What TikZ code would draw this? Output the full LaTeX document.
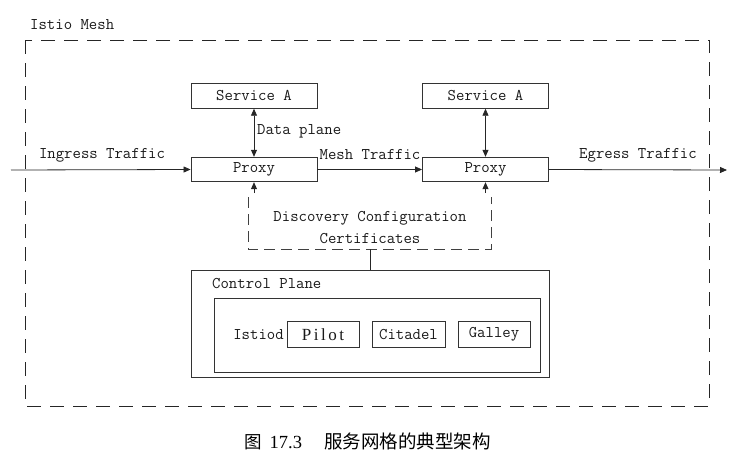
\documentclass[tikz,border=0pt]{standalone}
\usepackage{fontspec}
\newfontfamily\serifnum{Liberation Serif}
\newfontfamily\pilotfont[LetterSpace=15]{Liberation Serif}
\newfontfamily\cjk{Noto Sans CJK SC}
\usetikzlibrary{arrows.meta,positioning}
\tikzset{
  lbl/.style={inner sep=0pt, font=\ttfamily\fontsize{16.3}{18}\selectfont, text=black!90},
  boxnode/.style={draw=black!80, line width=0.9pt, inner sep=0pt, font=\ttfamily\fontsize{16.3}{18}\selectfont, text=black!90},
  small/.style={boxnode, minimum width=126pt, minimum height=24.5pt},
  comp/.style={boxnode, minimum height=26pt},
  conn/.style={draw=black!85, line width=0.8pt},
  tip/.style={-{Triangle[length=7pt,width=6pt]}},
  dtip/.style={{Triangle[length=7pt,width=6pt]}-{Triangle[length=7pt,width=6pt]}},
  bigdash/.style={draw=black!85, line width=0.9pt, dash pattern=on 14pt off 9pt},
  smalldash/.style={draw=black!75, line width=0.9pt, dash pattern=on 11pt off 6pt},
}
\begin{document}
\begin{tikzpicture}[x=1pt,y=-1pt]
\useasboundingbox (0,0) rectangle (737,463);
% outer mesh
\draw[bigdash] (25,40) rectangle (709,406);
\node[lbl, anchor=west] (mesh) at (30,25) {Istio Mesh};

% services and proxies
\node[small] (svcL) at (254,96) {Service A};
\node[small] (pxL) at (254,169.5) {Proxy};
\node[small] (svcR) at (485.5,96) {Service A};
\node[small] (pxR) at (485.5,169.5) {Proxy};

% traffic
\coordinate (inS) at (11,170);
\coordinate (egE) at (727,170);
\draw[conn,tip] (inS) -- (pxL.west);
\draw[conn,tip] (pxL.east) -- (pxR.west);
\draw[conn,tip] (pxR.east) -- (egE);
\node[lbl] (ingl) at (102,155) {Ingress Traffic};
\node[lbl] (meshl) at (370,155) {Mesh Traffic};
\node[lbl] (egl) at (638,155) {Egress Traffic};

% data plane
\draw[conn,dtip] (svcL.south) -- (pxL.north);
\draw[conn,dtip] (svcR.south) -- (pxR.north);
\node[lbl, anchor=west] (dpl) at (257,131) {Data plane};

% discovery
\coordinate (dl) at (248,197);
\coordinate (dbl) at (248,249);
\coordinate (dbr) at (491,249);
\coordinate (dr) at (491,197);
\coordinate (dm) at (370,249);
\draw[smalldash] (dl) -- (dbl) -- (dbr) -- (dr);
\coordinate (aL) at (254,193);
\coordinate (aR) at (485.5,193);
\draw[conn,tip] (aL) -- (pxL.south);
\draw[conn,tip] (aR) -- (pxR.south);
\node[lbl] (disc1) at (370,218) {Discovery Configuration};
\node[lbl] (disc2) at (370,238.5) {Certificates};

% control plane
\node[boxnode, minimum width=358pt, minimum height=107pt] (cp) at (370,323.5) {};
\draw[conn] (dm) -- (cp.north);
\node[lbl, anchor=west] (cpl) at (212,284) {Control Plane};
\node[boxnode, minimum width=326pt, minimum height=74pt] (istiod) at (377,335) {};
\node[lbl] (istl) at (258.5,335) {Istiod};
\node[comp, minimum width=72pt, font=\pilotfont\fontsize{17}{19}\selectfont] (pilot) at (323,334.5) {Pilot};
\node[comp, minimum width=73pt] (citadel) at (408.5,334.5) {Citadel};
\node[comp, minimum width=72pt] (galley) at (494,334.5) {Galley};

% caption
\node[inner sep=0pt, anchor=west] (cap) at (244,441) {\cjk\fontsize{17.5}{20}\selectfont 图\hspace{8pt}{\serifnum\fontsize{18.5}{20}\selectfont 17.3}\hspace{22pt}\fontsize{18.5}{20}\selectfont 服务网格的典型架构};
\end{tikzpicture}
\end{document}
